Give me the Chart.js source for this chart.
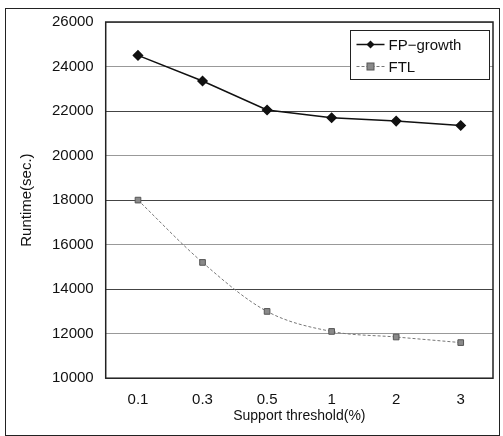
<!DOCTYPE html>
<html>
<head>
<meta charset="utf-8">
<script src="https://cdn.jsdelivr.net/npm/chart.js@4.4.1/dist/chart.umd.min.js"></script>
<style>
  html, body { margin: 0; padding: 0; background: #fff; }
  .wrap { width: 503px; height: 436px; position: relative; }
</style>
</head>
<body>
<div class="wrap"><canvas class="runtime-chart"></canvas></div>
<script>
const thresholds = ["0.1", "0.3", "0.5", "1", "2", "3"];
const fpGrowth = [24500, 23350, 22050, 21700, 21550, 21350];
const ftl = [18000, 15200, 13000, 12100, 11850, 11600];
const yTicks = [10000, 12000, 14000, 16000, 18000, 20000, 22000, 24000, 26000];

const ctx = document.querySelector(".runtime-chart").getContext("2d");
const fontFamily = "'Liberation Sans', Arial, sans-serif";

// frame around whole figure + plot border + legend box inside plot
const framePlugin = {
    id: "frame",
    afterDraw(chart) {
        const c = chart.ctx;
        const area = chart.chartArea;
        c.save();
        c.strokeStyle = "#222";
        c.lineWidth = 1;
        c.strokeRect(5.5, 8.5, 494, 427);
        c.lineWidth = 1.5;
        c.strokeRect(area.left, area.top, area.right - area.left, area.bottom - area.top);

        // legend
        const lx = 350.5, ly = 30.5, lw = 139, lh = 49;
        c.fillStyle = "#fff";
        c.fillRect(lx, ly, lw, lh);
        c.lineWidth = 1;
        c.strokeStyle = "#222";
        c.strokeRect(lx, ly, lw, lh);
        c.font = "15px " + fontFamily;
        c.textBaseline = "middle";
        chart.data.datasets.forEach((ds, i) => {
            const y = ly + 14 + i * 22;
            c.strokeStyle = ds.borderColor;
            c.lineWidth = ds.borderWidth;
            c.setLineDash(ds.borderDash || []);
            c.beginPath();
            c.moveTo(lx + 6, y);
            c.lineTo(lx + 34, y);
            c.stroke();
            c.setLineDash([]);
            c.fillStyle = ds.pointBackgroundColor;
            c.strokeStyle = ds.pointBorderColor;
            c.lineWidth = 1;
            const cx = lx + 20;
            if (ds.pointStyle === "rectRot") {
                c.beginPath();
                c.moveTo(cx, y - 4);
                c.lineTo(cx + 4, y);
                c.lineTo(cx, y + 4);
                c.lineTo(cx - 4, y);
                c.closePath();
                c.fill();
            } else {
                c.fillRect(cx - 3.5, y - 3.5, 7, 7);
                c.strokeRect(cx - 3.5, y - 3.5, 7, 7);
            }
            c.fillStyle = "#111";
            c.fillText(ds.label, lx + 38, y + 1);
        });
        c.restore();
    },
};

new Chart(ctx, {
    type: "line",
    data: {
        labels: thresholds,
        datasets: [
            {
                label: "FP\u2212growth",
                data: fpGrowth,
                fill: false,
                borderColor: "#111",
                backgroundColor: "#111",
                pointBackgroundColor: "#111",
                pointBorderColor: "#111",
                borderWidth: 1.5,
                pointStyle: "rectRot",
                pointRadius: 4.5,
                tension: 0,
            },
            {
                label: "FTL",
                data: ftl,
                fill: false,
                borderColor: "#777",
                backgroundColor: "#888",
                pointBackgroundColor: "#8a8a8a",
                pointBorderColor: "#555",
                borderWidth: 1,
                borderDash: [3, 2],
                pointStyle: "rect",
                pointRadius: 4,
                tension: 0.35,
                cubicInterpolationMode: "monotone",
            },
        ],
    },
    options: {
        responsive: true,
        maintainAspectRatio: false,
        animation: false,
        layout: {
            padding: { top: 22, right: 10, left: 18, bottom: 11 },
        },
        scales: {
            x: {
                type: "category",
                offset: true,
                grid: { display: false, drawTicks: false },
                border: { display: false },
                ticks: {
                    color: "#111",
                    padding: 13,
                    font: { size: 15, family: fontFamily },
                },
                title: {
                    display: true,
                    text: "Support threshold(%)",
                    color: "#111",
                    padding: { top: -14, bottom: 0 },
                    font: { size: 14, family: fontFamily },
                },
            },
            y: {
                type: "linear",
                min: 10000,
                max: 26000,
                afterBuildTicks: (axis) => {
                    axis.ticks = yTicks.map((v) => ({ value: v }));
                },
                grid: {
                    color: (c) => ([22000, 18000, 14000].includes(c.tick.value) ? "#444" : "#999"),
                    lineWidth: 1,
                    drawTicks: false,
                },
                border: { display: false },
                ticks: {
                    color: "#111",
                    padding: 12,
                    font: { size: 15, family: fontFamily },
                    callback: (v) => String(v),
                },
                title: {
                    display: true,
                    text: "Runtime(sec.)",
                    color: "#111",
                    padding: { top: 0, bottom: 4 },
                    font: { size: 15, family: fontFamily },
                },
            },
        },
        plugins: {
            legend: { display: false },
            tooltip: { enabled: false },
        },
    },
    plugins: [framePlugin],
});
</script>
</body>
</html>
